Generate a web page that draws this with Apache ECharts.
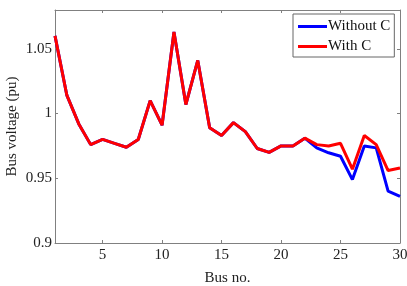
<!DOCTYPE html>
<html><head><meta charset="utf-8">
<script src="https://cdn.jsdelivr.net/npm/echarts@6/dist/echarts.min.js"></script>
<style>html,body{margin:0;padding:0;background:#fff}#c{width:407px;height:286px}</style>
</head><body><div id="c"></div>
<script>
const buses = [1,2,3,4,5,6,7,8,9,10,11,12,13,14,15,16,17,18,19,20,21,22,23,24,25,26,27,28,29,30];
const withoutC = [1.060,1.014,0.992,0.976,0.980,0.977,0.974,0.980,1.010,0.991,1.063,1.007,1.041,0.989,0.983,0.993,0.986,0.973,0.970,0.975,0.975,0.981,0.9735,0.9697,0.967,0.949,0.975,0.9735,0.940,0.936];
const withC    = [1.060,1.014,0.992,0.976,0.980,0.977,0.974,0.980,1.010,0.991,1.063,1.007,1.041,0.989,0.983,0.993,0.986,0.973,0.970,0.975,0.975,0.981,0.976,0.975,0.977,0.957,0.983,0.976,0.956,0.958];
const xTicks = [5,10,15,20,25,30];
const yTicks = [0.9,0.95,1,1.05];
const seriesNames = ['Without C','With C'];

const font = 'Liberation Serif, Times New Roman, serif';
const axisCol = '#808080';
const chart = echarts.init(document.getElementById('c'));
const pairs = arr => buses.map((b,i)=>[b,arr[i]]);
chart.setOption({
  animation:false,
  grid:{left:55,right:7,top:10,bottom:43,outerBoundsMode:'none',containLabel:false},
  legend:{
    orient:'vertical', left:293, top:14, width:104,
    data:seriesNames, itemWidth:29, itemHeight:3, itemGap:5,
    icon:'rect',
    backgroundColor:'#fff', borderColor:'#666', borderWidth:1, borderRadius:0,
    padding:[5,4,3,5],
    textStyle:{fontFamily:font, fontSize:15, color:'#111', padding:[0,0,0,-4]}
  },
  xAxis:[{
    type:'value', min:1, max:30,
    name:'Bus no.', nameLocation:'middle', nameGap:28, nameMoveOverlap:false,
    nameTextStyle:{fontFamily:font,fontSize:15,color:'#222'},
    axisLine:{lineStyle:{color:axisCol,width:1}},
    axisTick:{inside:true,length:3,customValues:xTicks,lineStyle:{color:axisCol}},
    axisLabel:{customValues:xTicks,fontFamily:font,fontSize:15,color:'#222',margin:5},
    splitLine:{show:false}
  },{
    type:'value', min:1, max:30, position:'top',
    axisLine:{lineStyle:{color:axisCol,width:1}},
    axisTick:{inside:true,length:3,customValues:xTicks,lineStyle:{color:axisCol}},
    axisLabel:{show:false}, splitLine:{show:false}
  }],
  yAxis:[{
    type:'value', min:0.9, max:1.08,
    name:'Bus voltage (pu)', nameLocation:'middle', nameGap:35, nameMoveOverlap:false,
    nameTextStyle:{fontFamily:font,fontSize:15,color:'#222'},
    axisLine:{show:true,lineStyle:{color:axisCol,width:1}},
    axisTick:{show:true,inside:true,length:3,customValues:yTicks,lineStyle:{color:axisCol}},
    axisLabel:{customValues:yTicks,fontFamily:font,fontSize:15,color:'#222',margin:3,
      formatter:v=>String(+v.toFixed(2))},
    splitLine:{show:false}
  },{
    type:'value', min:0.9, max:1.08, position:'right',
    axisLine:{show:true,lineStyle:{color:axisCol,width:1}},
    axisTick:{show:true,inside:true,length:3,customValues:yTicks,lineStyle:{color:axisCol}},
    axisLabel:{show:false}, splitLine:{show:false}
  }],
  series:[
    {name:seriesNames[0],type:'line',data:pairs(withoutC),symbol:'none',
     lineStyle:{color:'#0000ff',width:3},itemStyle:{color:'#0000ff'}},
    {name:seriesNames[1],type:'line',data:pairs(withC),symbol:'none',
     lineStyle:{color:'#ff0000',width:3},itemStyle:{color:'#ff0000'}}
  ]
});
</script></body></html>
